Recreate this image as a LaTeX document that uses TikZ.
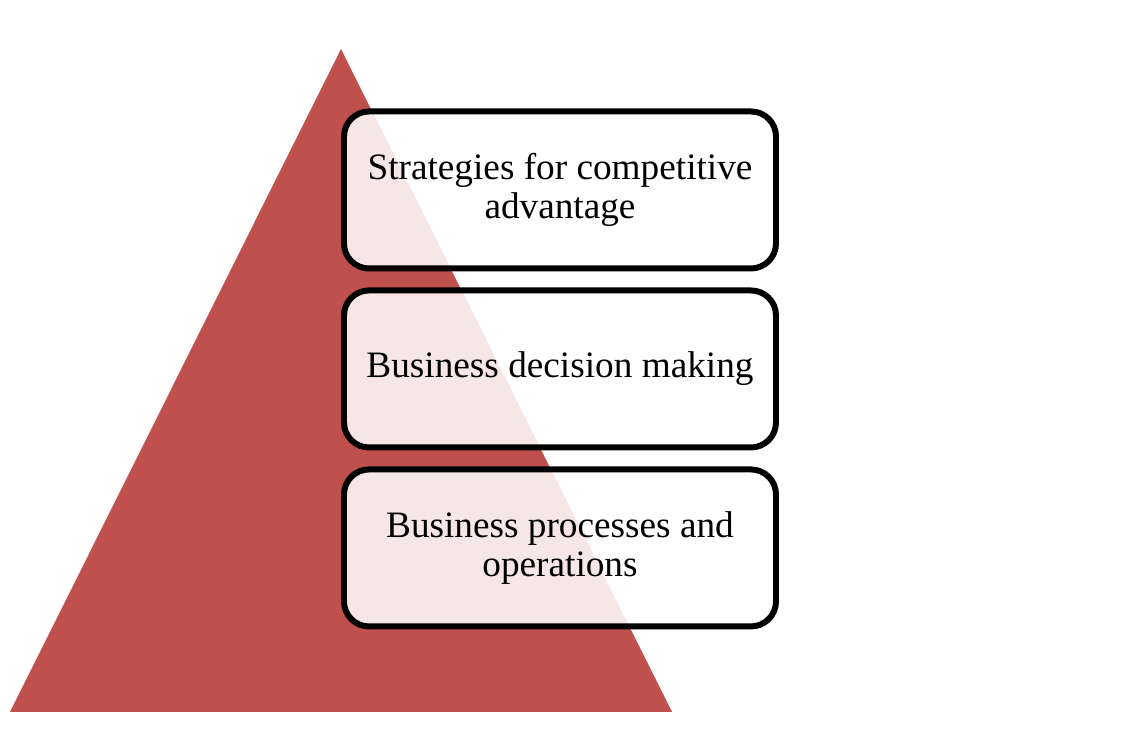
\documentclass[tikz,border=0pt]{standalone}
\usepackage{fontspec}
\setmainfont{Liberation Serif}
\usetikzlibrary{positioning}

\definecolor{pyramidred}{HTML}{C0504D}

\tikzset{
  levelbox/.style={draw=black, line width=3.4pt, rounded corners=0.5cm, fill=white, fill opacity=0.86,
    text opacity=1, minimum width=8.64cm, minimum height=3.14cm, align=center,
    font=\fontsize{21.2}{22.2}\selectfont}
}

\begin{document}
\begin{tikzpicture}
  \useasboundingbox (0,0) rectangle (22.56,15.02);
  \fill[pyramidred] (6.82,14.04) coordinate (apex) -- (13.44,0.78) coordinate (baseR) -- (0.2,0.78) coordinate (baseL) -- cycle;
  \node[levelbox] (strategy) at (11.2,11.22) {Strategies for competitive\\advantage};
  \node[levelbox, below=0.32cm of strategy] (decision) {Business decision making};
  \node[levelbox, below=0.32cm of decision] (operations) {Business processes and\\operations};
\end{tikzpicture}
\end{document}
